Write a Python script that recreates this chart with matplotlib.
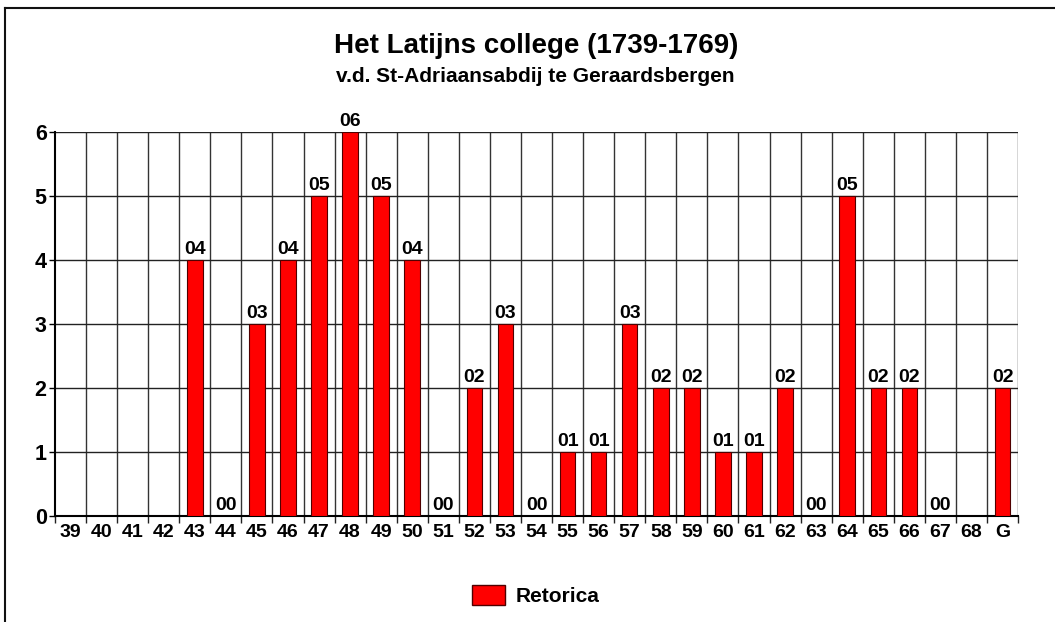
import numpy as np
import matplotlib
matplotlib.use("Agg")
import matplotlib.pyplot as plt
from matplotlib.lines import Line2D
from matplotlib.patches import Patch

plt.rcParams["font.family"] = ["Liberation Sans", "DejaVu Sans"]

# ---- data ----
categories = ["39", "40", "41", "42", "43", "44", "45", "46", "47", "48", "49",
              "50", "51", "52", "53", "54", "55", "56", "57", "58", "59", "60",
              "61", "62", "63", "64", "65", "66", "67", "68", "G"]
retorica = [None, None, None, None, 4, 0, 3, 4, 5, 6, 5,
            4, 0, 2, 3, 0, 1, 1, 3, 2, 2, 1,
            1, 2, 0, 5, 2, 2, 0, None, 2]
y_ticks = [0, 1, 2, 3, 4, 5, 6]

fig = plt.figure(figsize=(10.55, 6.22), dpi=100)
ax = fig.add_axes([0.0521, 0.1704, 0.9129, 0.6174])

x = np.arange(len(categories))
vals = np.array([np.nan if v is None else v for v in retorica], float)
ax.bar(x, np.nan_to_num(vals), width=0.5, color="#ff0000",
       edgecolor="#500000", linewidth=0.8, zorder=3)
for xi, v in zip(x, retorica):
    if v is None: continue
    ax.text(xi, v + 0.03, f"{v:02d}", ha="center", va="bottom",
            fontsize=14, fontweight="bold", zorder=4)

ax.set_xlim(-0.5, len(categories) - 0.5)
ax.set_ylim(0, 6)
ax.set_yticks(y_ticks)
ax.set_yticklabels([str(t) for t in y_ticks], fontsize=15.5, fontweight="bold")
ax.set_xticks(x)
ax.set_xticklabels(categories, fontsize=14, fontweight="bold")
ax.tick_params(axis="x", length=0, pad=6)
ax.set_xticks(np.arange(-0.5, len(categories)), minor=True)
ax.tick_params(axis="x", which="minor", length=5, width=1, color="#222222")
ax.tick_params(axis="y", length=4, width=1, pad=2)

# grid
for b in np.arange(0.5, len(categories) - 0.5):
    ax.axvline(b, color="#333333", lw=1, zorder=1)
for t in y_ticks[1:]:
    ax.axhline(t, color="#222222", lw=1, zorder=1)
ax.axvline(len(categories) - 0.5, color="#333333", lw=1, zorder=1)

for s in ["top", "right"]:
    ax.spines[s].set_visible(False)
ax.spines["left"].set_linewidth(1.5)
ax.spines["bottom"].set_linewidth(1.5)

# titles
fig.text(0.508, 0.926, "Het Latijns college (1739-1769)", ha="center", va="center",
         fontsize=20, fontweight="bold")
fig.text(0.507, 0.877, "v.d. St-Adriaansabdij te Geraardsbergen", ha="center", va="center",
         fontsize=15, fontweight="bold")

# legend
fig.legend(handles=[Patch(facecolor="#ff0000", edgecolor="#500000", label="Retorica")],
           loc="center", bbox_to_anchor=(0.508, 0.043), frameon=False,
           prop={"size": 15, "weight": "bold"}, handlelength=1.6, handleheight=1.1,
           handletextpad=0.5)

# outer frame (top + left)
fig.add_artist(Line2D([0.005, 1.0], [0.987, 0.987], color="#111111", lw=1.5, transform=fig.transFigure))
fig.add_artist(Line2D([0.005, 0.005], [0.0, 0.987], color="#111111", lw=1.5, transform=fig.transFigure))

fig.savefig("out.png", dpi=100)
